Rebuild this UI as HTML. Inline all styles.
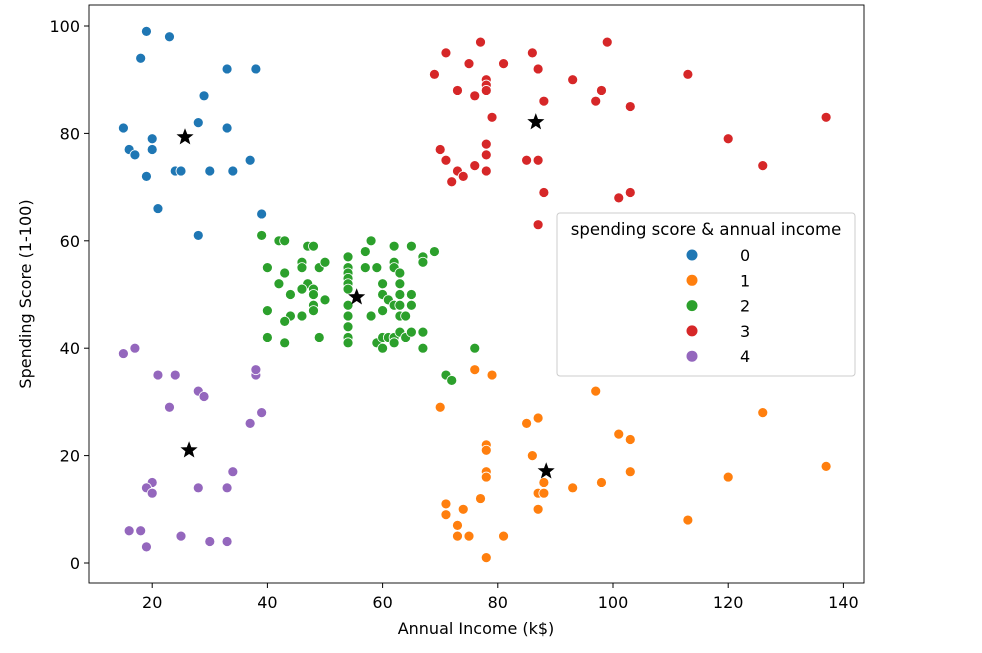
<!DOCTYPE html>
<html><head><meta charset="utf-8"><style>
body{margin:0;background:#fff;font-family:"Liberation Sans","DejaVu Sans",sans-serif}
svg text{font-family:"DejaVu Sans","Liberation Sans",sans-serif}
</style></head><body>
<svg id="chart" width="982" height="648" xmlns="http://www.w3.org/2000/svg">
<rect x="0" y="0" width="982" height="648" fill="#fff"/>
<g id="marks"></g>
<rect x="89" y="5" width="775" height="578" fill="none" stroke="#000" stroke-width="0.9"/>
<g id="axes"></g>
<text x="476" y="634" font-size="16" text-anchor="middle">Annual Income (k$)</text>
<text transform="translate(31,294) rotate(-90)" font-size="16" text-anchor="middle">Spending Score (1-100)</text>
<g>
<rect x="557" y="213" width="298" height="163" rx="3" fill="#fff" fill-opacity="0.85" stroke="#ccc"/>
<text x="706" y="235" font-size="16.5" text-anchor="middle">spending score &amp; annual income</text>
<g id="legend-items"></g>
</g>
</svg>
<script>
const categories=["0","1","2","3","4"];
const colors=["#1f77b4","#ff7f0e","#2ca02c","#d62728","#9467bd"];
const xTicks=[20,40,60,80,100,120,140];
const yTicks=[0,20,40,60,80,100];
const blueX=[19,23,18,33,38,29,15,28,33,20,20,16,17,37,19,24,25,30,34,21,39,28];
const blueY=[99,98,94,92,92,87,81,82,81,79,77,77,76,75,72,73,73,73,73,66,65,61];
const orangeX=[76,79,97,70,126,87,85,101,103,78,78,86,137,78,78,103,120,88,87,88,98,93,77,71,71,74,87,73,113,73,75,81,78];
const orangeY=[36,35,32,29,28,27,26,24,23,22,21,20,18,17,16,17,16,15,13,13,15,14,12,11,9,10,10,7,8,5,5,5,1];
const greenX=[39,42,43,47,48,58,62,65,69,67,67,57,54,40,46,46,49,50,54,57,59,62,62,63,43,42,47,46,48,54,54,54,54,60,63,44,48,50,60,61,62,63,65,63,65,48,48,40,54,60,54,54,54,54,63,64,44,43,46,58,40,43,49,59,60,60,61,62,62,63,64,65,67,67,76,71,72];
const greenY=[61,60,60,59,59,60,59,59,58,57,56,58,57,55,56,55,55,56,55,55,55,56,55,54,54,52,52,51,51,54,53,52,51,52,52,50,50,49,50,49,48,50,50,48,48,48,47,47,48,47,46,44,42,41,46,46,46,45,46,46,42,41,42,41,42,40,42,42,41,43,42,43,43,40,40,35,34];
const redX=[71,86,77,99,75,81,87,69,113,93,78,78,78,73,76,98,88,97,103,79,137,70,120,78,78,71,85,87,126,76,73,74,78,72,88,103,101,87];
const redY=[95,95,97,97,93,93,92,91,91,90,90,89,88,88,87,88,86,86,85,83,83,77,79,78,76,75,75,75,74,74,73,72,73,71,69,69,68,63];
const purpleX=[15,17,21,24,38,38,28,29,23,39,37,34,20,19,20,28,33,16,18,25,19,30,33];
const purpleY=[39,40,35,35,35,36,32,31,29,28,26,17,15,14,13,14,14,6,6,5,3,4,4];
const centerX=[25.7,88.4,55.5,86.6,26.4];
const centerY=[79.3,17.1,49.5,82.1,21.0];
const seriesX=[blueX,orangeX,greenX,redX,purpleX];
const seriesY=[blueY,orangeY,greenY,redY,purpleY];
const NS="http://www.w3.org/2000/svg";
function sx(v){return 37+v*5.76;}
function sy(v){return 563-v*5.37;}
const marks=document.getElementById('marks');
seriesX.forEach((xs,s)=>{
  xs.forEach((xv,i)=>{
    const c=document.createElementNS(NS,'circle');
    c.setAttribute('cx',sx(xv));c.setAttribute('cy',sy(seriesY[s][i]));
    c.setAttribute('r',5);c.setAttribute('fill',colors[s]);
    c.setAttribute('stroke','#fff');c.setAttribute('stroke-width',0.8);
    
    
    marks.appendChild(c);
  });
});
function starPath(cx,cy,R,r){let d='';for(let k=0;k<10;k++){const a=-Math.PI/2+k*Math.PI/5;const rr=k%2?r:R;d+=(k?'L':'M')+(cx+rr*Math.cos(a)).toFixed(1)+','+(cy+rr*Math.sin(a)).toFixed(1);}return d+'Z';}
centerX.forEach((xv,i)=>{
  const p=document.createElementNS(NS,'path');
  p.setAttribute('d',starPath(sx(xv),sy(centerY[i]),9,3.8));
  p.setAttribute('fill','#000');
  
  
  marks.appendChild(p);
});
const axes=document.getElementById('axes');
xTicks.forEach(t=>{
  const l=document.createElementNS(NS,'line');
  l.setAttribute('x1',sx(t));l.setAttribute('x2',sx(t));l.setAttribute('y1',583);l.setAttribute('y2',588);l.setAttribute('stroke','#000');
  
  
  axes.appendChild(l);
  const tx=document.createElementNS(NS,'text');
  tx.setAttribute('x',sx(t));tx.setAttribute('y',608);tx.setAttribute('font-size',16);tx.setAttribute('text-anchor','middle');
  tx.textContent=t;
  
  
  axes.appendChild(tx);
});
yTicks.forEach(t=>{
  const l=document.createElementNS(NS,'line');
  l.setAttribute('x1',84);l.setAttribute('x2',89);l.setAttribute('y1',sy(t));l.setAttribute('y2',sy(t));l.setAttribute('stroke','#000');
  
  
  axes.appendChild(l);
  const tx=document.createElementNS(NS,'text');
  tx.setAttribute('x',80);tx.setAttribute('y',sy(t)+6);tx.setAttribute('font-size',16);tx.setAttribute('text-anchor','end');
  tx.textContent=t;
  
  
  axes.appendChild(tx);
});
const li=document.getElementById('legend-items');
categories.forEach((c,i)=>{
  const y=255+i*25.3;
  const m=document.createElementNS(NS,'circle');
  m.setAttribute('cx',692);m.setAttribute('cy',y);m.setAttribute('r',5.5);m.setAttribute('fill',colors[i]);
  
  
  li.appendChild(m);
  const t=document.createElementNS(NS,'text');
  t.setAttribute('x',740);t.setAttribute('y',y+6);t.setAttribute('font-size',16);
  t.textContent=c;
  
  
  li.appendChild(t);
});
</script>
</body></html>
